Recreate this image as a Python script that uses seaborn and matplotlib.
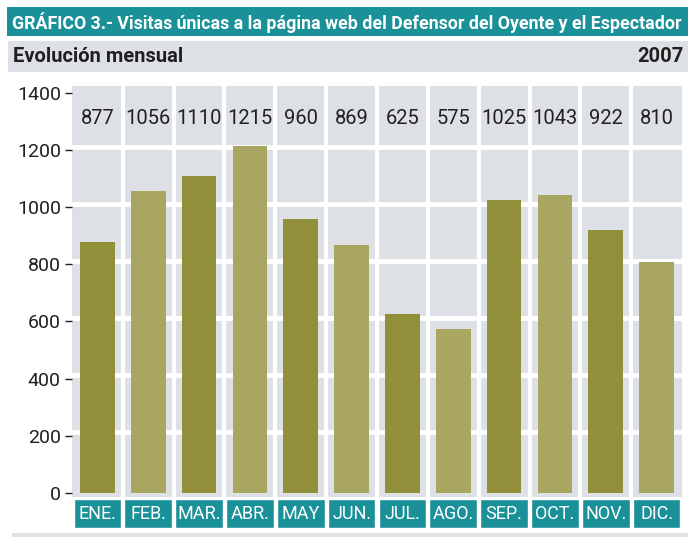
import matplotlib
matplotlib.use("Agg")
import matplotlib.pyplot as plt
import seaborn as sns
import pandas as pd
import numpy as np

# Data
months = ["ENE.", "FEB.", "MAR.", "ABR.", "MAY", "JUN.", "JUL.", "AGO.", "SEP.", "OCT.", "NOV.", "DIC."]
visits = [877, 1056, 1110, 1215, 960, 869, 625, 575, 1025, 1043, 922, 810]
shade = ["dark", "light"] * 6

TEAL = "#1a9199"
GRAY = "#dde1e5"
DARK_OLIVE = "#918f3a"
LIGHT_OLIVE = "#a9a661"
TXT = "#231f20"

sns.set_theme(style="white")
plt.rcParams['font.family'] = ['Roboto', 'DejaVu Sans']

df = pd.DataFrame({"mes": months, "visitas": visits, "tono": shade})

fig = plt.figure(figsize=(6.88, 5.37), dpi=100)
W, H = 688, 537

def box(x0, y0, x1, y1):
    return [x0 / W, 1 - y1 / H, (x1 - x0) / W, (y1 - y0) / H]

def plain(a, color):
    a.set_facecolor(color)
    a.set_xticks([]); a.set_yticks([])
    for s in a.spines.values():
        s.set_visible(False)

# title bar
ax_t = fig.add_axes(box(7, 7, 688, 36))
plain(ax_t, TEAL)
title = ax_t.text(0.008, 0.47, "GRÁFICO 3.- Visitas únicas a la página web del Defensor del Oyente y el Espectador",
                  color="white", fontsize=13, fontweight="bold", va="center", ha="left",
                  transform=ax_t.transAxes)
# shrink title to fit the bar
fig.canvas.draw()
w = title.get_window_extent().width
if w > 668:
    title.set_fontsize(13 * 668 / w)

# subtitle bar
ax_s = fig.add_axes(box(8, 41, 688, 72))
plain(ax_s, GRAY)
ax_s.text(0.007, 0.5, "Evolución mensual", color=TXT, fontsize=14.5, fontweight="bold",
          va="center", ha="left", transform=ax_s.transAxes)
ax_s.text(0.993, 0.5, "2007", color=TXT, fontsize=14.5, fontweight="bold",
          va="center", ha="right", transform=ax_s.transAxes)

# main plot
ax = fig.add_axes(box(72, 86, 682, 497))
ax.set_facecolor(GRAY)
sns.barplot(data=df, x="mes", y="visitas", hue="tono", order=months,
            palette={"dark": DARK_OLIVE, "light": LIGHT_OLIVE},
            width=0.68, dodge=False, legend=False, saturation=1,
            edgecolor="none", linewidth=0, ax=ax)
ax.set_ylim(-15, 1425)
ax.set_xlim(-0.5, len(months) - 0.5)
ax.set_yticks(range(0, 1401, 200))
ax.set_xticks([])
ax.set_xlabel("")
ax.set_ylabel("")
ax.tick_params(axis="y", length=5, width=1, color=TXT, labelsize=14, labelcolor=TXT, pad=3, left=True)
for s in ax.spines.values():
    s.set_visible(False)
for yv in range(200, 1201, 200):
    ax.axhline(yv + 12, color="white", lw=3.5, zorder=0.5)
for xv in np.arange(0.5, len(months) - 0.5, 1):
    ax.axvline(xv, color="white", lw=3, zorder=0.5)
for i, v in enumerate(visits):
    ax.text(i, 1310, str(v), ha="center", va="center", fontsize=14.5, color=TXT)

# month label strip
ax_m = fig.add_axes(box(72, 499, 682, 528), sharex=ax)
ax_m.set_facecolor("white")
ax_m.bar(range(len(months)), [1] * len(months), width=0.94, color=TEAL)
ax_m.set_ylim(0, 1)
ax_m.set_yticks([])
ax_m.tick_params(axis="x", bottom=False, labelbottom=False)
for s in ax_m.spines.values():
    s.set_visible(False)
for i, m in enumerate(months):
    ax_m.text(i, 0.47, m, ha="center", va="center", color="white", fontsize=13)

# bottom rule
ax_b = fig.add_axes(box(12, 533, 688, 537))
plain(ax_b, GRAY)

fig.savefig("out.png", dpi=100)
